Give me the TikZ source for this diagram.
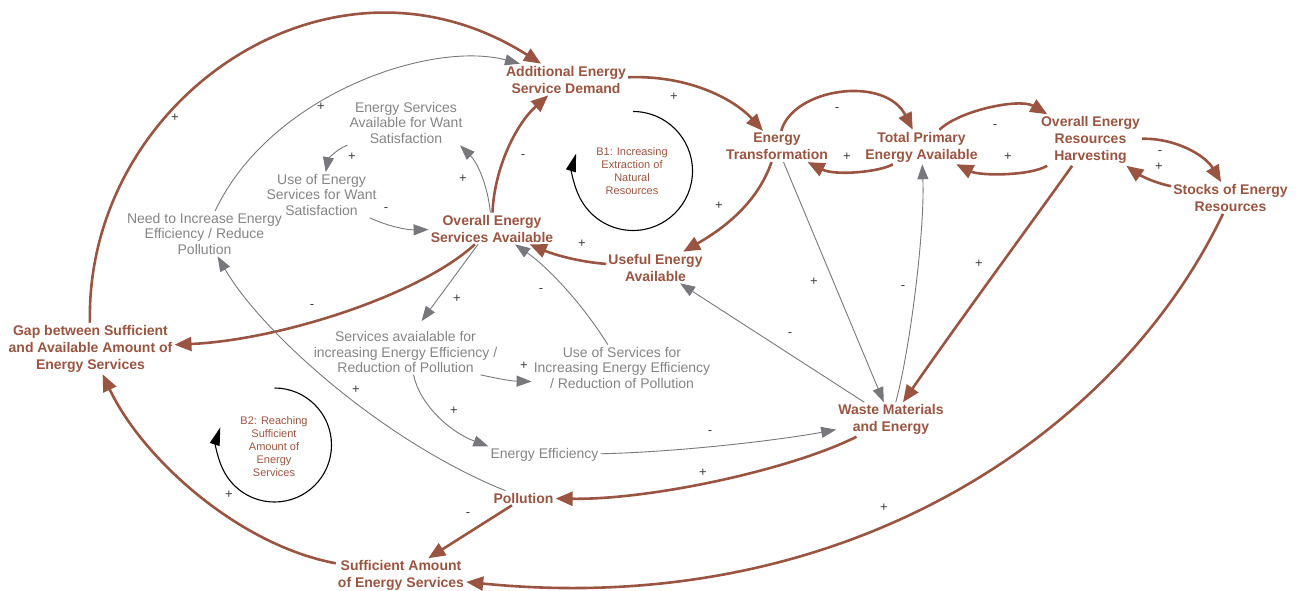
\documentclass[tikz,border=0pt]{standalone}
\usepackage{fontspec}
\setmainfont{Liberation Sans}
\usetikzlibrary{arrows.meta}
\definecolor{brn}{RGB}{153,85,65}
\definecolor{gtx}{RGB}{132,132,132}
\definecolor{gln}{RGB}{120,120,124}
\definecolor{sgc}{RGB}{60,60,60}
\tikzset{
  bnode/.style={font=\bfseries\fontsize{14}{17}\selectfont, text=brn, align=center, inner sep=2pt},
  gnode/.style={font=\fontsize{14}{15.5}\selectfont, text=gtx, align=center, inner sep=2pt},
  looptext/.style={font=\fontsize{11}{13}\selectfont, text=brn, align=center, inner sep=0pt},
  sgn/.style={font=\fontsize{13}{13}\selectfont, text=sgc, inner sep=0pt},
  barr/.style={draw=brn, line width=2.6pt, -{Triangle[length=17pt,width=14pt]}},
  garr/.style={draw=gln, line width=0.9pt, -{Triangle[length=15pt,width=11pt]}},
  larr/.style={draw=black, line width=1.1pt, -{Triangle[length=18pt,width=10pt]}},
}
\begin{document}
\begin{tikzpicture}[x=1pt,y=-1pt]
\useasboundingbox (0,0) rectangle (1298,591);
% brown nodes
\node[bnode] (aesd) at (566,79.5) {Additional Energy\\Service Demand};
\node[bnode] (et) at (777,146.5) {Energy\\Transformation};
\node[bnode] (tpea) at (921.5,147) {Total Primary\\Energy Available};
\node[bnode] (oerh) at (1090.5,140) {Overall Energy\\Resources\\Harvesting};
\node[bnode] (ser) at (1230.5,198) {Stocks of Energy\\Resources};
\node[bnode] (uea) at (655.5,267.5) {Useful Energy\\Available};
\node[bnode] (osa) at (492,228.5) {Overall Energy\\Services Available};
\node[bnode] (gap) at (90.5,348.5) {Gap between Sufficient\\and Available Amount of\\Energy Services};
\node[bnode] (wme) at (891,419.5) {Waste Materials\\and Energy};
\node[bnode] (poll) at (523.5,498) {Pollution};
\node[bnode] (sae) at (401,575.5) {Sufficient Amount\\of Energy Services};
% gray nodes
\node[gnode] (esaw) at (406,122.5) {Energy Services\\Available for Want\\Satisfaction};
\node[gnode] (uesw) at (321.5,195) {Use of Energy\\Services for Want\\Satisfaction};
\node[gnode] (nie) at (204.5,233.5) {Need to Increase Energy\\Efficiency / Reduce\\Pollution};
\node[gnode] (sai) at (405.5,352) {Services avaialable for\\increasing Energy Efficiency /\\Reduction of Pollution};
\node[gnode] (usi) at (622,367.5) {Use of Services for\\Increasing Energy Efficiency\\/ Reduction of Pollution};
\node[gnode] (ee) at (544.5,455) {Energy Efficiency};
% loops
\node[looptext] (b1) at (632,171.5) {B1: Increasing\\Extraction of\\Natural\\Resources};
\node[looptext] (b2) at (274,447) {B2: Reaching\\Sufficient\\Amount of\\Energy\\Services};
\coordinate (b1top) at (633,111.5);
\coordinate (b2top) at (274.5,388);
\draw[larr] (b1top) arc[start angle=90,end angle=-197,radius=59.5pt];
\draw[larr] (b2top) arc[start angle=90,end angle=-198,radius=57pt];
% brown connectors
\draw[barr] (gap) .. controls (85,100) and (330,-70) .. (aesd);
\draw[barr] (osa) .. controls (494,170) and (515,125) .. (aesd);
\draw[barr] (aesd) .. controls (690,75) and (735,100) .. (et);
\draw[barr] (et) .. controls (793,88) and (885,75) .. (tpea);
\draw[barr] (tpea) .. controls (880,172) and (835,176) .. (et);
\draw[barr] (tpea) .. controls (960,110) and (1020,98) .. (oerh);
\draw[barr] (oerh) .. controls (1030,176) and (980,176) .. (tpea);
\draw[barr] (oerh) .. controls (1175,138) and (1205,155) .. (ser);
\draw[barr] (ser) .. controls (1150,182) and (1135,172) .. (oerh);
\draw[barr] (et) .. controls (760,195) and (735,222) .. (uea);
\draw[barr] (uea) .. controls (580,262) and (555,255) .. (osa);
\draw[barr] (osa) .. controls (420,295) and (280,340) .. (gap);
\draw[barr] (oerh) .. controls (1030,225) and (960,320) .. (wme);
\draw[barr] (wme) .. controls (790,470) and (650,500) .. (poll);
\draw[barr] (poll) -- (sae);
\draw[barr] (sae) .. controls (238,545) and (142,458) .. (gap);
\draw[barr] (ser) .. controls (1120,430) and (850,620) .. (sae);
% gray connectors
\draw[garr] (nie) .. controls (270,95) and (430,40) .. ([xshift=-46pt]aesd.north);
\draw[garr] (esaw) .. controls (335,150) and (328,160) .. (uesw);
\draw[garr] (uesw) .. controls (385,225) and (405,230) .. (osa);
\draw[garr] (osa) .. controls (487,180) and (475,160) .. ([xshift=54pt]esaw.south);
\draw[garr] ([xshift=-14pt]osa.south) -- ([xshift=16pt,yshift=8pt]sai.north);
\draw[garr] (usi) .. controls (580,300) and (545,265) .. (osa);
\draw[garr] ([xshift=75pt]sai.south) .. controls (495,378) and (510,381) .. ([yshift=-14pt]usi.west);
\draw[garr] ([xshift=8pt]sai.south) .. controls (420,405) and (450,432) .. (ee.north west);
\draw[garr] (ee) .. controls (680,452) and (780,440) .. (wme);
\draw[garr] (poll) .. controls (380,440) and (260,330) .. (nie);
\draw[garr] (et) -- (wme);
\draw[garr] (wme) .. controls (910,350) and (925,230) .. (tpea);
\draw[garr] (wme) -- (uea);
% polarity signs
\node[sgn] (s1) at (175,118) {+};
\node[sgn] (s2) at (321,107) {+};
\node[sgn] (s3) at (352,157) {+};
\node[sgn] (s4) at (386,210) {-};
\node[sgn] (s5) at (463,179) {+};
\node[sgn] (s6) at (523,157) {-};
\node[sgn] (s7) at (674,97) {+};
\node[sgn] (s8) at (837,110) {-};
\node[sgn] (s9) at (847,157) {+};
\node[sgn] (s10) at (995,127) {-};
\node[sgn] (s11) at (1008,157) {+};
\node[sgn] (s12) at (1160,153) {-};
\node[sgn] (s13) at (1159,167) {+};
\node[sgn] (s14) at (719,206) {+};
\node[sgn] (s15) at (582,244) {+};
\node[sgn] (s16) at (312,307) {-};
\node[sgn] (s17) at (457,299) {+};
\node[sgn] (s18) at (541,291) {-};
\node[sgn] (s19) at (524,366) {+};
\node[sgn] (s20) at (454,411) {+};
\node[sgn] (s21) at (356,390) {+};
\node[sgn] (s22) at (229,495) {+};
\node[sgn] (s23) at (468,515) {-};
\node[sgn] (s24) at (703,473) {+};
\node[sgn] (s25) at (710,433) {-};
\node[sgn] (s26) at (790,335) {-};
\node[sgn] (s27) at (814,282) {+};
\node[sgn] (s28) at (903,288) {-};
\node[sgn] (s29) at (979,264) {+};
\node[sgn] (s30) at (884,508) {+};
\end{tikzpicture}
\end{document}
